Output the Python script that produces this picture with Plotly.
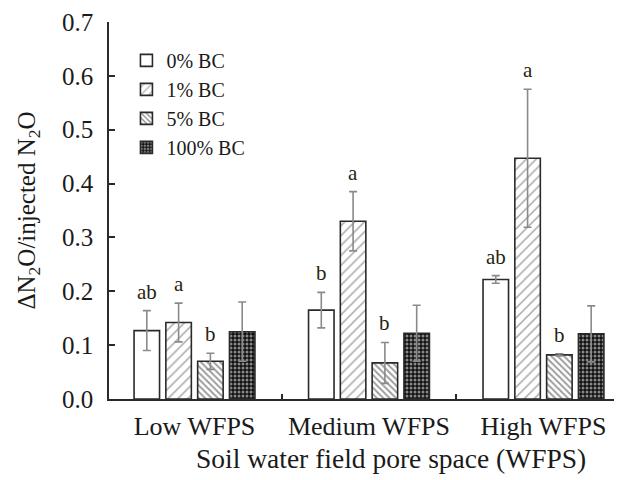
import plotly.graph_objects as go

categories = ["Low WFPS", "Medium WFPS", "High WFPS"]
series_names = ["0% BC", "1% BC", "5% BC", "100% BC"]

bc0 = [0.127, 0.165, 0.222]
bc1 = [0.142, 0.330, 0.447]
bc5 = [0.070, 0.067, 0.082]
bc100 = [0.125, 0.122, 0.121]

err0 = [0.037, 0.033, 0.007]
err1 = [0.036, 0.055, 0.128]
err5 = [0.015, 0.038, 0.002]
err100 = [0.055, 0.052, 0.052]

letters0 = ["ab", "b", "ab"]
letters1 = ["a", "a", "a"]
letters5 = ["b", "b", "b"]
letters100 = ["", "", ""]

values = [bc0, bc1, bc5, bc100]
errors = [err0, err1, err5, err100]
letters = [letters0, letters1, letters5, letters100]

FONT = "Liberation Serif"
TXT = "#1a1a1a"
EDGE = "#2a2a2a"
BARGAP = 0.271
BARGROUPGAP = 0.198

patterns = [
    dict(shape="", fillmode="replace"),
    dict(shape="/", fgcolor="#444444", bgcolor="white", size=7, solidity=0.2),
    dict(shape="\\", fgcolor="#333333", bgcolor="white", size=4.5, solidity=0.4),
    dict(shape=".", fgcolor="white", bgcolor="#111111", size=4, solidity=0.45),
]

fig = go.Figure()
for i, name in enumerate(series_names):
    fig.add_trace(go.Bar(
        x=categories, y=values[i], name=name,
        legendgroup=name,
        marker=dict(color="white", line=dict(color=EDGE, width=1.6),
                    pattern=patterns[i]),
        error_y=dict(type="data", array=errors[i], visible=True,
                     color="#8a8a8a", thickness=1.6, width=4),
    ))

annotations = []
slot = (1 - BARGAP) / len(series_names)
for i in range(len(series_names)):
    for j in range(len(categories)):
        if not letters[i][j]:
            continue
        annotations.append(dict(
            x=j + (i - (len(series_names) - 1) / 2) * slot,
            y=values[i][j] + errors[i][j],
            xref="x", yref="y", text=letters[i][j], showarrow=False,
            yanchor="middle", yshift=19,
            font=dict(family=FONT, size=21, color="#2a1f0f"),
        ))

annotations.append(dict(
    x=0.55, y=-0.158, xref="paper", yref="paper",
    text="Soil water field pore space (WFPS)", showarrow=False,
    xanchor="center", yanchor="middle",
    font=dict(family=FONT, size=27.5, color=TXT),
))

fig.update_layout(
    width=614, height=472,
    margin=dict(l=101, r=0, t=14, b=81),
    paper_bgcolor="white", plot_bgcolor="white",
    barmode="group", bargap=BARGAP, bargroupgap=BARGROUPGAP,
    font=dict(family=FONT, size=24, color=TXT),
    showlegend=True,
    legend=dict(x=0.034, y=0.95, xanchor="left", yanchor="top",
                font=dict(family=FONT, size=20, color=TXT),
                bgcolor="rgba(0,0,0,0)", tracegroupgap=0),
    annotations=annotations,
)
fig.update_xaxes(
    type="category", range=[-0.49, 2.45],
    showline=True, linecolor=EDGE, linewidth=1.6,
    ticks="inside", tickson="boundaries", ticklen=5, tickcolor=EDGE, tickwidth=1.5,
    showgrid=False, zeroline=False, ticklabelstandoff=3,
    tickfont=dict(family=FONT, size=26, color=TXT),
)
fig.update_yaxes(
    range=[0, 0.7], dtick=0.1, tickformat=".1f",
    showline=True, linecolor=EDGE, linewidth=1.6,
    ticks="inside", ticklen=6, tickcolor=EDGE, tickwidth=1.5,
    showgrid=False, zeroline=False, ticklabelstandoff=9,
    tickfont=dict(family=FONT, size=25, color=TXT),
    title=dict(text="ΔN<sub>2</sub>O/injected N<sub>2</sub>O", standoff=19,
               font=dict(family=FONT, size=25, color=TXT)),
)

fig.write_html("out.html")
